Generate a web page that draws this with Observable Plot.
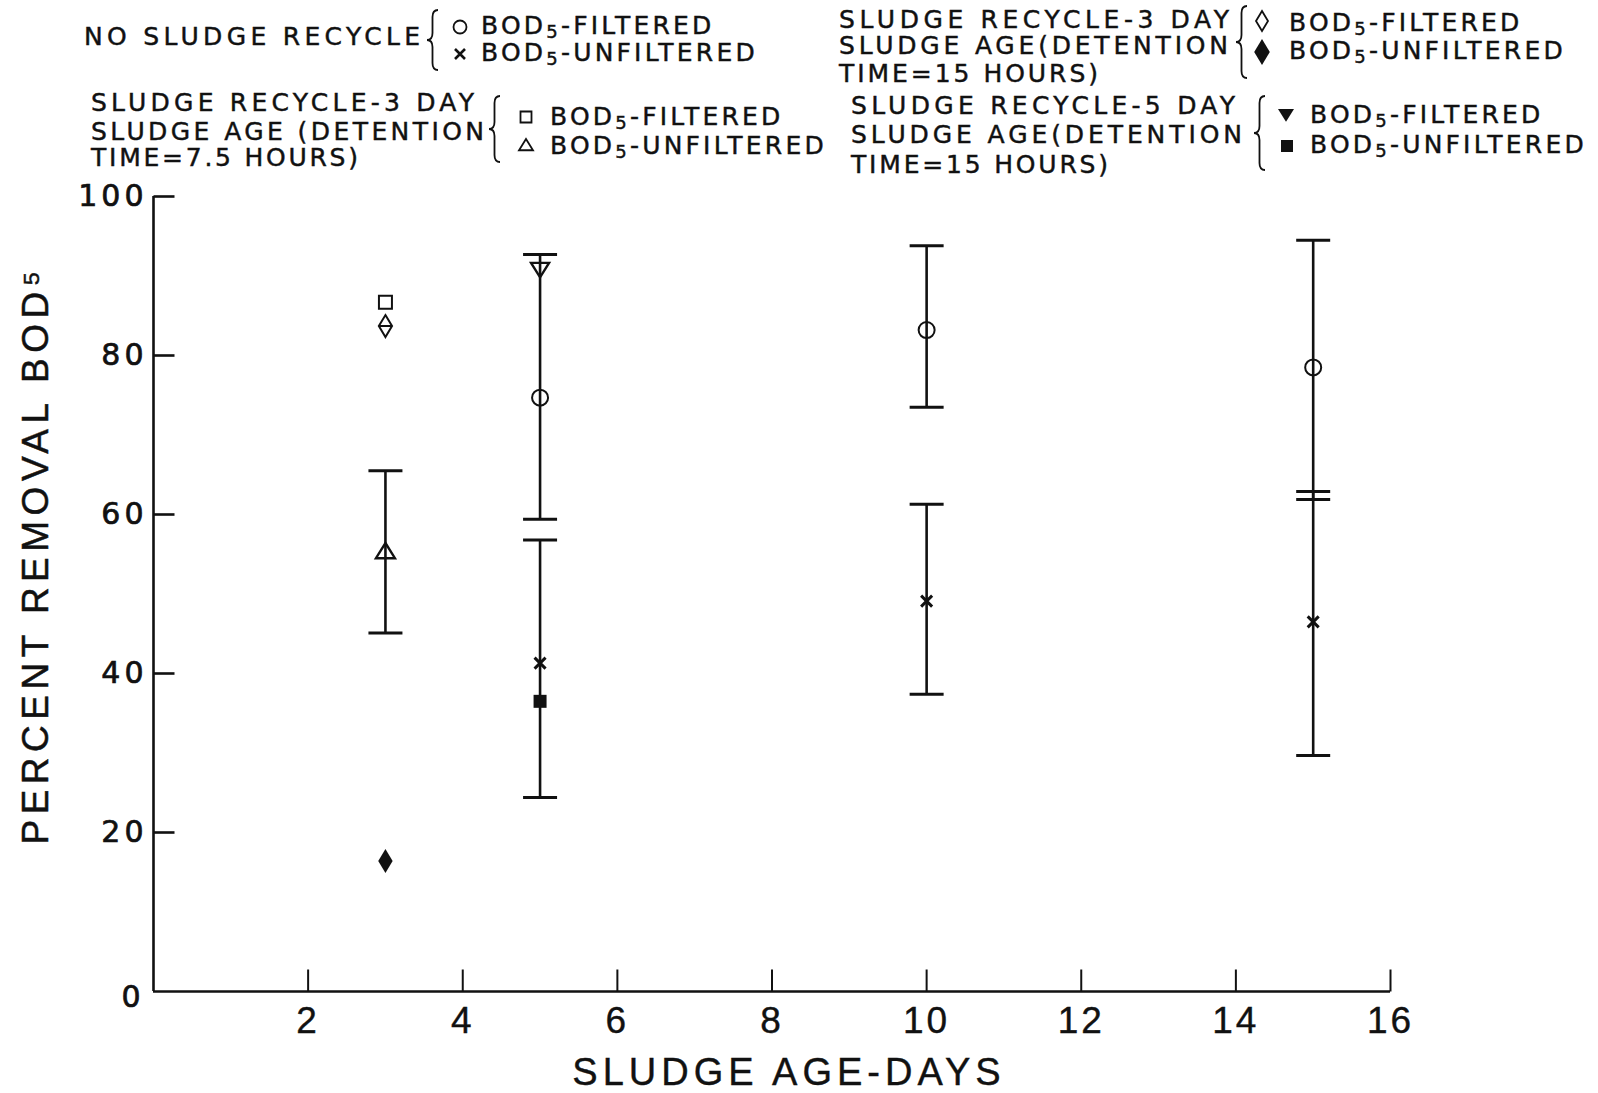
<!DOCTYPE html>
<html>
<head>
<meta charset="utf-8">
<script src="https://cdn.jsdelivr.net/npm/d3@7"></script>
<script src="https://cdn.jsdelivr.net/npm/@observablehq/plot@0.6"></script>
<style>
  html, body { margin: 0; padding: 0; background: #fff; }
  #wrap { position: relative; width: 1598px; height: 1093px; overflow: hidden; background: #fff; }
  #legend { position: absolute; left: 0; top: 0; }
  #chart { position: absolute; left: 0; top: 180px; }
  #chart svg g[aria-label="y-axis tick label"] text { letter-spacing: 4px; stroke: #111; stroke-width: 0.7px; }
  #chart svg g[aria-label="x-axis tick label"] text { letter-spacing: 3px; stroke: #111; stroke-width: 0.4px; }
</style>
</head>
<body>
<div id="wrap"><div id="legend"></div><div id="chart"></div></div>
<script>
// ---------------- data ----------------
const noRecycleAge = [5, 10, 15];
const noRecycleFiltered = [74.7, 83.2, 78.5];
const noRecycleFilteredLow = [59.4, 73.5, 61.9];
const noRecycleFilteredHigh = [92.7, 93.8, 94.5];
const noRecycleUnfiltered = [41.3, 49.1, 46.5];
const noRecycleUnfilteredLow = [24.4, 37.4, 29.7];
const noRecycleUnfilteredHigh = [56.8, 61.3, 62.9];

const recycle3d75hAge = [3];
const recycle3d75hFiltered = [86.7];
const recycle3d75hUnfiltered = [55.4];
const recycle3d75hUnfilteredLow = [45.1];
const recycle3d75hUnfilteredHigh = [65.5];

const recycle3d15hAge = [3];
const recycle3d15hFiltered = [83.7];
const recycle3d15hUnfiltered = [16.4];

const recycle5d15hAge = [5];
const recycle5d15hFiltered = [90.8];
const recycle5d15hUnfiltered = [36.5];

const xTicks = [2, 4, 6, 8, 10, 12, 14, 16];
const yTicks = [0, 20, 40, 60, 80, 100];
const xLabel = "SLUDGE AGE-DAYS";
const yLabel = "PERCENT REMOVAL BOD\u2075";

const groupLabels = [
  ["NO SLUDGE RECYCLE"],
  ["SLUDGE RECYCLE-3 DAY", "SLUDGE AGE (DETENTION", "TIME=7.5 HOURS)"],
  ["SLUDGE RECYCLE-3 DAY", "SLUDGE AGE(DETENTION", "TIME=15 HOURS)"],
  ["SLUDGE RECYCLE-5 DAY", "SLUDGE AGE(DETENTION", "TIME=15 HOURS)"]
];
const entryKinds = ["FILTERED", "UNFILTERED"];

// ---------------- symbols ----------------
const R = s => Math.sqrt(s / Math.PI);
const symCircle = {draw(c, s) { const r = R(s); c.moveTo(r, 0); c.arc(0, 0, r, 0, 2 * Math.PI); }};
const symSquare = {draw(c, s) { const r = R(s); c.rect(-r, -r, 2 * r, 2 * r); }};
const symTriangle = {draw(c, s) { const r = R(s); c.moveTo(0, -0.85 * r); c.lineTo(r, 0.75 * r); c.lineTo(-r, 0.75 * r); c.closePath(); }};
const symTriDown = {draw(c, s) { const r = R(s); c.moveTo(-r, -0.75 * r); c.lineTo(r, -0.75 * r); c.lineTo(0, 0.85 * r); c.closePath(); }};
const symDiamondLine = {draw(c, s) { const r = R(s); c.moveTo(0, -r); c.lineTo(0.6 * r, 0); c.lineTo(0, r); c.lineTo(-0.6 * r, 0); c.closePath(); c.moveTo(-0.6 * r, 0); c.lineTo(0.6 * r, 0); }};
const symDiamond = {draw(c, s) { const r = R(s); c.moveTo(0, -r); c.lineTo(0.6 * r, 0); c.lineTo(0, r); c.lineTo(-0.6 * r, 0); c.closePath(); }};
const symTimes = {draw(c, s) { const r = R(s); c.moveTo(-r, -r); c.lineTo(r, r); c.moveTo(r, -r); c.lineTo(-r, r); }};
const symCap = {draw(c, s) { const r = R(s); c.moveTo(-r, 0); c.lineTo(r, 0); }};
const symTickRight = {draw(c, s) { const r = R(s); c.moveTo(0, 0); c.lineTo(r, 0); }};
const symTickUp = {draw(c, s) { const r = R(s); c.moveTo(0, 0); c.lineTo(0, -r); }};

// ---------------- tables ----------------
const toRows = (ages, vals, lows, highs) => ages.map((a, i) => ({age: a, value: vals[i], low: lows ? lows[i] : null, high: highs ? highs[i] : null}));
const nrF = toRows(noRecycleAge, noRecycleFiltered, noRecycleFilteredLow, noRecycleFilteredHigh);
const nrU = toRows(noRecycleAge, noRecycleUnfiltered, noRecycleUnfilteredLow, noRecycleUnfilteredHigh);
const r375F = toRows(recycle3d75hAge, recycle3d75hFiltered);
const r375U = toRows(recycle3d75hAge, recycle3d75hUnfiltered, recycle3d75hUnfilteredLow, recycle3d75hUnfilteredHigh);
const r315F = toRows(recycle3d15hAge, recycle3d15hFiltered);
const r315U = toRows(recycle3d15hAge, recycle3d15hUnfiltered);
const r515F = toRows(recycle5d15hAge, recycle5d15hFiltered);
const r515U = toRows(recycle5d15hAge, recycle5d15hUnfiltered);
const bars = [...nrF, ...nrU, ...r375U];

const ink = "#111";
const open = {fill: "none", stroke: ink, strokeWidth: 2};
const filled = {fill: ink, stroke: "none"};

const chart = Plot.plot({
  width: 1598,
  height: 913,
  marginLeft: 153,
  marginRight: 208,
  marginTop: 16,
  marginBottom: 102,
  x: {domain: [0, 16], label: null},
  y: {domain: [0, 100], label: null},
  style: {background: "white", color: ink, overflow: "visible"},
  marks: [
    // axes frame lines
    Plot.ruleX([0], {y1: 0, y2: 100, stroke: ink, strokeWidth: 2.6}),
    Plot.ruleY([0], {x1: 0, x2: 16, stroke: ink, strokeWidth: 2.6}),
    // inward ticks
    Plot.dot(yTicks.filter(v => v > 0), {x: () => 0, y: d => d, symbol: symTickRight, r: 21, stroke: ink, strokeWidth: 2.6, fill: "none"}),
    Plot.dot(xTicks, {x: d => d, y: () => 0, symbol: symTickUp, r: 22, stroke: ink, strokeWidth: 2, fill: "none"}),
    Plot.axisY(yTicks, {anchor: "left", tickSize: 0, tickPadding: 6, fontSize: 30, fontFamily: "DejaVu Sans", label: null}),
    Plot.axisX(xTicks, {anchor: "bottom", tickSize: 0, tickPadding: 15, fontSize: 37, fontFamily: "Liberation Sans", label: null}),
    Plot.text([yLabel], {frameAnchor: "left", dx: -117, dy: -39, rotate: -90, fontSize: 37, fontFamily: "Liberation Sans", lineAnchor: "middle", textAnchor: "middle"}),
    Plot.text([xLabel], {frameAnchor: "bottom", dx: 17, dy: 81, fontSize: 38, fontFamily: "Liberation Sans", lineAnchor: "middle", textAnchor: "middle"}),
    // error bars
    Plot.ruleX(bars, {x: "age", y1: "low", y2: "high", stroke: ink, strokeWidth: 2.6}),
    Plot.dot(bars, {x: "age", y: "low", symbol: symCap, r: 17, stroke: ink, strokeWidth: 3, fill: "none"}),
    Plot.dot(bars, {x: "age", y: "high", symbol: symCap, r: 17, stroke: ink, strokeWidth: 3, fill: "none"}),
    // points
    Plot.dot(nrF, {x: "age", y: "value", symbol: symCircle, r: 8, ...open}),
    Plot.dot(nrU, {x: "age", y: "value", symbol: symTimes, r: 5.5, fill: "none", stroke: ink, strokeWidth: 3}),
    Plot.dot(r375F, {x: "age", y: "value", symbol: symSquare, r: 6.5, ...open}),
    Plot.dot(r375U, {x: "age", y: "value", symbol: symTriangle, r: 9.5, ...open, strokeWidth: 2.4}),
    Plot.dot(r315F, {x: "age", y: "value", symbol: symDiamondLine, r: 11, ...open}),
    Plot.dot(r315U, {x: "age", y: "value", symbol: symDiamond, r: 12, ...filled}),
    Plot.dot(r515F, {x: "age", y: "value", symbol: symTriDown, r: 9, ...open, strokeWidth: 2.4}),
    Plot.dot(r515U, {x: "age", y: "value", symbol: symSquare, r: 6.5, ...filled})
  ]
});

const sel = d3.select(chart);
sel.selectAll("text").filter(function () { return this.textContent === yLabel; }).attr("letter-spacing", "5.5").attr("stroke", ink).attr("stroke-width", 0.5);
sel.selectAll("text").filter(function () { return this.textContent === xLabel; }).attr("letter-spacing", "5").attr("stroke", ink).attr("stroke-width", 0.4);
sel.selectAll('g[aria-label="y-axis tick label"] text').filter(function () { return this.textContent === "0"; }).attr("dy", "0.2em").attr("dx", -3);
document.getElementById("chart").appendChild(chart);

// ---------------- legend (layout above the chart) ----------------
const legendLayout = [
  {lx: 84, ly: [45], lw: [336], brace: [427, 10, 70],
   entries: [{sym: symCircle, r: 6.5, style: "open", sx: 460, sy: 27, tx: 481, ty: 34},
             {sym: symTimes, r: 5, style: "cross", sx: 460, sy: 54, tx: 481, ty: 61}]},
  {lx: 91, ly: [111, 140, 166], lw: [383, 393, 267], brace: [489, 96, 162],
   entries: [{sym: symSquare, r: 5.5, style: "open", sx: 526, sy: 117, tx: 550, ty: 125},
             {sym: symTriangle, r: 7, style: "open", sx: 526, sy: 145, tx: 550, ty: 154}]},
  {lx: 839, ly: [28, 54, 82], lw: [390, 389, 259], brace: [1236, 6, 78],
   entries: [{sym: symDiamond, r: 10, style: "open", sx: 1262, sy: 21, tx: 1289, ty: 31},
             {sym: symDiamond, r: 13, style: "filled", sx: 1262, sy: 52, tx: 1289, ty: 59}]},
  {lx: 851, ly: [114, 143, 173], lw: [384, 391, 257], brace: [1254, 96, 170],
   entries: [{sym: symTriDown, r: 8, style: "filled", sx: 1286, sy: 115, tx: 1310, ty: 123},
             {sym: symSquare, r: 6, style: "filled", sx: 1287, sy: 146, tx: 1310, ty: 153}]}
];

function bracePath(x, y0, y1, w) {
  const m = (y0 + y1) / 2, xm = x + w / 2, k = 7;
  return `M${x + w},${y0} Q${xm},${y0} ${xm},${y0 + k} L${xm},${m - k} Q${xm},${m} ${x},${m} Q${xm},${m} ${xm},${m + k} L${xm},${y1 - k} Q${xm},${y1} ${x + w},${y1}`;
}

const lsvg = d3.create("svg").attr("width", 1598).attr("height", 180)
  .attr("font-family", "DejaVu Sans, sans-serif").attr("fill", ink)
  .attr("stroke", ink).attr("stroke-width", 0.45);

legendLayout.forEach((blk, gi) => {
  groupLabels[gi].forEach((line, li) => {
    lsvg.append("text").attr("x", blk.lx).attr("y", blk.ly[li]).attr("font-size", 25)
      .attr("textLength", blk.lw[li]).attr("lengthAdjust", "spacing").text(line);
  });
  lsvg.append("path").attr("d", bracePath(blk.brace[0], blk.brace[1], blk.brace[2], 11))
    .attr("fill", "none").attr("stroke", ink).attr("stroke-width", 1.8);
  blk.entries.forEach((e, ei) => {
    const p = d3.path(); e.sym.draw(p, e.r * e.r * Math.PI);
    const path = lsvg.append("path").attr("d", p.toString()).attr("transform", `translate(${e.sx},${e.sy})`);
    if (e.style === "filled") path.attr("fill", ink).attr("stroke", "none");
    else if (e.style === "cross") path.attr("fill", "none").attr("stroke", ink).attr("stroke-width", 2.6);
    else path.attr("fill", "none").attr("stroke", ink).attr("stroke-width", 1.8);
    const t = lsvg.append("text").attr("x", e.tx).attr("y", e.ty).attr("font-size", 25).attr("letter-spacing", 3.2);
    t.append("tspan").text("BOD");
    t.append("tspan").attr("font-size", 18).attr("dy", 4).text("5");
    t.append("tspan").attr("dy", -4).text("-" + entryKinds[ei]);
  });
});
document.getElementById("legend").appendChild(lsvg.node());
</script>
</body>
</html>
